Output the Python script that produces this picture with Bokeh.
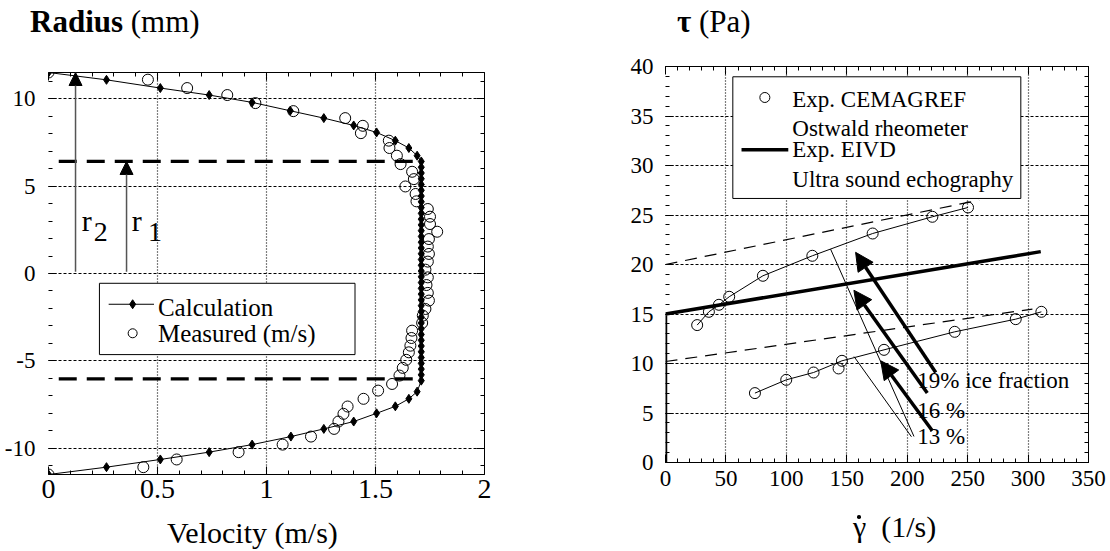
from bokeh.plotting import figure
from bokeh.models import (Range1d, LinearAxis, SingleIntervalTicker, Label, Arrow,
                          NormalHead, CustomJSTickFormatter, Div)
from bokeh.layouts import row, column
from bokeh.embed import file_html
from bokeh.resources import INLINE

FONT = "Liberation Serif"

# ---------------- Left chart: velocity profile ----------------
calc_velocity = [0.0, 0.266, 0.513, 0.737, 0.934, 1.109, 1.263, 1.40, 1.505, 1.591, 1.653, 1.691,
                 1.71, 1.71, 1.71, 1.71, 1.71, 1.71, 1.71, 1.71, 1.71, 1.71, 1.71, 1.71, 1.71,
                 1.71, 1.71, 1.71, 1.71, 1.71, 1.71, 1.71, 1.71, 1.71, 1.71, 1.71, 1.71, 1.71,
                 1.71, 1.71, 1.71, 1.71, 1.71, 1.71, 1.71, 1.71, 1.71, 1.71, 1.71, 1.71, 1.71,
                 1.691, 1.653, 1.591, 1.505, 1.40, 1.263, 1.112, 0.934, 0.737, 0.513, 0.266, 0.0]
calc_radius = [11.5, 11.08, 10.61, 10.21, 9.79, 9.31, 8.89, 8.47, 8.07, 7.60, 7.18, 6.74,
               6.41, 6.08, 5.75, 5.42, 5.09, 4.76, 4.43, 4.10, 3.77, 3.44, 3.11, 2.78, 2.45,
               2.12, 1.79, 1.46, 1.13, 0.80, 0.47, 0.14, -0.19, -0.52, -0.85, -1.18, -1.51, -1.84,
               -2.17, -2.50, -2.83, -3.16, -3.49, -3.82, -4.15, -4.48, -4.81, -5.14, -5.47, -5.80, -6.13,
               -6.76, -7.17, -7.60, -8.00, -8.47, -8.89, -9.33, -9.79, -10.22, -10.64, -11.08, -11.5]

meas_velocity = [0.0, 0.456, 0.636, 0.82, 0.949, 1.123, 1.361, 1.442, 1.433, 1.561, 1.564, 1.598,
                 1.615, 1.668, 1.676, 1.637, 1.684, 1.688, 1.740, 1.750, 1.750, 1.783, 1.745, 1.740,
                 1.745, 1.740, 1.729, 1.740, 1.734, 1.740, 1.745, 1.729, 1.717, 1.714, 1.668, 1.665,
                 1.660, 1.653, 1.641, 1.625, 1.610, 1.576, 1.512, 1.445, 1.372, 1.353, 1.33, 1.31,
                 1.204, 1.074, 0.872, 0.588, 0.435, 0.0]
meas_radius = [11.5, 11.09, 10.61, 10.21, 9.75, 9.29, 8.89, 8.45, 8.03, 7.60, 7.18, 6.74,
               6.26, 5.82, 5.40, 4.98, 4.55, 4.13, 3.69, 3.25, 2.83, 2.39, 1.97, 1.54,
               1.12, 0.68, 0.22, -0.22, -0.66, -1.11, -1.55, -2.03, -2.41, -2.83, -3.27, -3.69,
               -4.13, -4.51, -4.94, -5.40, -5.84, -6.32, -6.70, -7.17, -7.61, -8.03, -8.47, -8.89,
               -9.33, -9.79, -10.22, -10.64, -11.08, -11.5]

plug_velocity = 1.71
r1_top = 6.41          # dashed line (plug radius, upper)
r1_bottom = -6.03      # dashed line (plug radius, lower)
r2 = 11.5              # pipe radius

# ---------------- Right chart: rheograms ----------------
cem19_rate = [26.2, 35.9, 44.2, 52.7, 80.6, 121.5, 171.4, 220.8, 250.3]
cem19_stress = [13.88, 15.22, 15.93, 16.74, 18.86, 20.88, 23.13, 24.82, 25.76]
cem13_rate = [74.0, 99.9, 122.5, 143.2, 146.0, 180.8, 239.3, 289.8, 311.0]
cem13_stress = [7.01, 8.35, 9.09, 9.50, 10.27, 11.38, 13.20, 14.48, 15.22]
fit13_rate = [74.0, 99.9, 122.5, 146.0, 180.8, 239.3, 289.8, 311.0]
fit13_stress = [7.01, 8.35, 9.09, 10.27, 11.38, 13.20, 14.48, 15.22]
bingham19_rate = [0.0, 259.5]
bingham19_stress = [20.0, 26.5]
bingham13_rate = [0.0, 303.6]
bingham13_stress = [10.2, 15.5]
eivd_rate = [0.0, 0.0, 310.5]
eivd_stress = [0.0, 15.0, 21.3]

labels_pct = ["19% ice fraction", "16 %", "13 %"]


def style_axis(ax, size="23px", standoff=8):
    ax.axis_line_color = "black"
    ax.major_tick_in = 8
    ax.major_tick_out = 0
    ax.minor_tick_in = 4
    ax.minor_tick_out = 0
    ax.major_tick_line_color = "black"
    ax.minor_tick_line_color = "black"
    ax.major_label_text_font = FONT
    ax.major_label_text_font_size = size
    ax.major_label_text_color = "black"
    ax.major_label_standoff = standoff


def hidden_axis(ticker):
    ax = LinearAxis(ticker=ticker, formatter=CustomJSTickFormatter(code="return ''"))
    style_axis(ax, "10px", 0)
    return ax


def lab(p, x, y, text, size, bold=False, align="left"):
    p.add_layout(Label(x=x, y=y, text=text, text_font=FONT, text_font_size=size,
                       text_font_style="bold" if bold else "normal", text_color="black",
                       text_align=align, text_baseline="middle"))


def no_align(p):
    if "frame_align" in p.properties():
        p.frame_align = False


SERIF_CSS = ('<style>div, b, span { font-family: "Liberation Serif", "Times New Roman", serif '
             '!important; color: #000; }</style>')


def html_title(inner, width, height, pad_top, pad_left, size=30):
    style = ("font-family:Liberation Serif,serif;font-size:%dpx;line-height:%dpx;"
             "padding:%dpx 0 0 %dpx;margin:0;white-space:nowrap;color:#000;" % (size, size, pad_top, pad_left))
    return Div(text=SERIF_CSS + '<div style="%s">%s</div>' % (style, inner),
               width=width, height=height, margin=0,
               styles={"font-family": "Liberation Serif, serif"})


# ---- left figure
p1 = figure(width=560, height=469, x_range=Range1d(0, 2), y_range=Range1d(-11.5, 11.5),
            output_backend="svg", toolbar_location=None,
            min_border_left=48, min_border_right=76, min_border_top=28, min_border_bottom=39)
no_align(p1)
p1.outline_line_color = None
p1.xaxis[0].ticker = SingleIntervalTicker(interval=0.5, num_minor_ticks=5)
p1.yaxis[0].ticker = SingleIntervalTicker(interval=5, num_minor_ticks=5)
style_axis(p1.xaxis[0], "28px", 5)
style_axis(p1.yaxis[0], "23px", 13)
p1.yaxis[0].axis_line_color = None
p1.yaxis[0].major_label_overrides = {-10: "-10", -5: "-5"}
p1.add_layout(hidden_axis(SingleIntervalTicker(interval=0.5, num_minor_ticks=5)), "above")
p1.add_layout(hidden_axis(SingleIntervalTicker(interval=5, num_minor_ticks=5)), "right")
p1.xgrid.grid_line_color = "black"
p1.xgrid.grid_line_dash = "1 2"
p1.xgrid.grid_line_width = 1.2
p1.ygrid.grid_line_color = "black"
p1.ygrid.grid_line_dash = "3 2"

# dashed plug-radius lines
p1.line([0.047, plug_velocity], [r1_top, r1_top], line_color="black", line_width=3.3, line_dash="18 10")
p1.line([0.047, plug_velocity], [r1_bottom, r1_bottom], line_color="black", line_width=3.3, line_dash="18 10")

# r1 / r2 arrows
for xa, ytop in [(0.124, r2), (0.358, r1_top)]:
    p1.add_layout(Arrow(end=NormalHead(size=13, fill_color="black", line_color="black"),
                        x_start=xa, y_start=0.1, x_end=xa, y_end=ytop,
                        line_color="#555555", line_width=1.5))
lab(p1, 0.152, 3.02, "r", "30px")
lab(p1, 0.207, 2.40, "2", "28px")
lab(p1, 0.382, 3.02, "r", "30px")
lab(p1, 0.456, 2.40, "1", "28px")

# data
p1.line(calc_velocity, calc_radius, line_color="black", line_width=1)
p1.scatter(calc_velocity, calc_radius, marker="diamond", size=9, fill_color="black", line_color="black")
p1.scatter(meas_velocity, meas_radius, marker="circle", size=11, fill_color=None,
           line_color="black", line_width=1)

# legend (manual)
p1.quad(left=[0.2336], right=[1.406], bottom=[-4.64], top=[-0.56], fill_color="white",
        line_color="black", line_width=1)
p1.line([0.276, 0.484], [-1.76, -1.76], line_color="black", line_width=1)
p1.scatter([0.386], [-1.76], marker="diamond", size=9, fill_color="black", line_color="black")
p1.scatter([0.386], [-3.42], marker="circle", size=9, fill_color=None, line_color="black")
lab(p1, 0.502, -1.92, "Calculation", "25px")
lab(p1, 0.502, -3.44, "Measured (m/s)", "25px")

# ---- right figure
p2 = figure(width=548, height=458, x_range=Range1d(0, 350), y_range=Range1d(0, 40),
            output_backend="svg", toolbar_location=None,
            min_border_left=105, min_border_right=20, min_border_top=22, min_border_bottom=40)
no_align(p2)
p2.outline_line_color = None
p2.xaxis[0].ticker = SingleIntervalTicker(interval=50, num_minor_ticks=5)
p2.yaxis[0].ticker = SingleIntervalTicker(interval=5, num_minor_ticks=5)
style_axis(p2.xaxis[0], "23px", 8)
style_axis(p2.yaxis[0], "23px", 12)
p2.yaxis[0].axis_line_color = None
p2.add_layout(hidden_axis(SingleIntervalTicker(interval=50, num_minor_ticks=5)), "above")
p2.add_layout(hidden_axis(SingleIntervalTicker(interval=5, num_minor_ticks=5)), "right")
p2.xgrid.grid_line_color = "black"
p2.xgrid.grid_line_dash = "1 2"
p2.xgrid.grid_line_width = 1.2
p2.ygrid.grid_line_color = "black"
p2.ygrid.grid_line_dash = "3 2"

# legend box (drawn under the data)
p2.quad(left=[55.7], right=[294.0], bottom=[26.67], top=[38.96], fill_color="white",
        line_color="black", line_width=1)

# Bingham fits (dashed)
p2.line(bingham19_rate, bingham19_stress, line_color="black", line_width=1.2, line_dash="12 8")
p2.line(bingham13_rate, bingham13_stress, line_color="black", line_width=1.2, line_dash="12 8")
# EIVD
p2.line(eivd_rate, eivd_stress, line_color="black", line_width=3.5)
# CEMAGREF
p2.line(cem19_rate, cem19_stress, line_color="black", line_width=1)
p2.line(fit13_rate, fit13_stress, line_color="black", line_width=1)
p2.scatter(cem19_rate, cem19_stress, marker="circle", size=11, fill_color=None, line_color="black")
p2.scatter(cem13_rate, cem13_stress, marker="circle", size=11, fill_color=None, line_color="black")

# thin leader lines
p2.line([136.6, 205.6], [21.55, 2.63], line_color="black", line_width=1)
p2.line([156.0, 203.5], [10.7, 2.6], line_color="black", line_width=1)

# bold arrows
for xs, ys, xe, ye in [(223.6, 9.09, 157.3, 21.23), (216.6, 7.01, 155.9, 17.4), (220.8, 3.2, 178.1, 10.27)]:
    p2.add_layout(Arrow(end=NormalHead(size=18, fill_color="black", line_color="black"),
                        x_start=xs, y_start=ys, x_end=xe, y_end=ye,
                        line_color="black", line_width=3.5))

lab(p2, 208.3, 8.26, labels_pct[0], "23px")
lab(p2, 208.3, 5.30, labels_pct[1], "23px")
lab(p2, 208.3, 2.62, labels_pct[2], "23px")

# legend content
p2.scatter([82.2], [36.87], marker="circle", size=10, fill_color=None, line_color="black")
p2.line([62.9, 101.6], [31.58, 31.58], line_color="black", line_width=3.5)
lab(p2, 104.9, 36.7, "Exp. CEMAGREF", "23px")
lab(p2, 104.9, 33.76, "Ostwald rheometer", "23px")
lab(p2, 104.9, 31.57, "Exp. EIVD", "23px")
lab(p2, 104.9, 28.63, "Ultra sound echography", "23px")

# ---- titles (HTML text above / below the plots)
t1_top = html_title("<b>Radius</b> (mm)", 560, 44, 6, 30, 31)
t1_bot = html_title("Velocity (m/s)", 560, 37, 5, 167, 30)
t2_top = html_title("<b>\u03c4</b> (Pa)", 548, 44, 6, 117, 31)
# gamma with an over-dot (the dot is a small CSS disc, not a separate text)
gamma_dot = ('<span style="position:relative;display:inline-block">\u03b3'
             '<span style="position:absolute;left:4px;top:3px;width:3.5px;height:3.5px;'
             'border-radius:50%;background:#000;display:block"></span></span>'
             '&nbsp;&nbsp;(1/s)')
t2_bot = html_title(gamma_dot, 548, 48, 10, 293, 30)

layout = row(column(t1_top, p1, t1_bot), column(t2_top, p2, t2_bot))
open("out.html", "w").write(file_html(layout, INLINE))
